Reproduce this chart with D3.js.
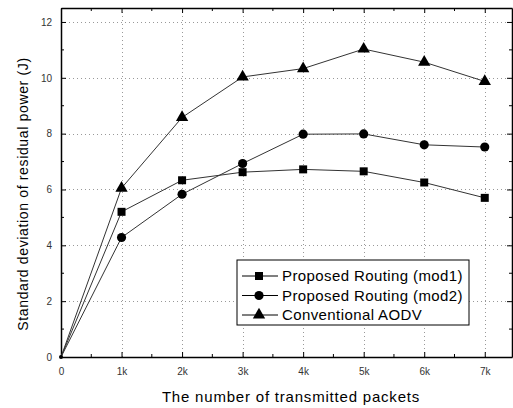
<!DOCTYPE html>
<html>
<head>
<meta charset="utf-8">
<script src="https://cdn.jsdelivr.net/npm/d3@7"></script>
<style>
  body { margin: 0; background: #fff; }
  text { font-family: "Liberation Sans", Arial, sans-serif; }
</style>
</head>
<body>
<div id="chart"></div>
<script>
// data
const packets = [0, 1000, 2000, 3000, 4000, 5000, 6000, 7000];
const mod1 = [0, 5.2, 6.33, 6.62, 6.72, 6.65, 6.25, 5.7];
const mod2 = [0, 4.28, 5.83, 6.93, 7.98, 7.99, 7.6, 7.52];
const aodv = [0, 6.05, 8.58, 10.03, 10.33, 11.03, 10.56, 9.87];
const seriesNames = ['Proposed Routing (mod1)', 'Proposed Routing (mod2)', 'Conventional AODV'];
const xTicks = [0, 1000, 2000, 3000, 4000, 5000, 6000, 7000];
const xTickLabels = ['0', '1k', '2k', '3k', '4k', '5k', '6k', '7k'];
const yTicks = [0, 2, 4, 6, 8, 10, 12];

const width = 513, height = 408;
const margin = { left: 61, right: 1, top: 8, bottom: 51 };

const svg = d3.select('#chart').append('svg')
    .attr('width', width)
    .attr('height', height);

const x = d3.scaleLinear()
    .domain([0, 7450])
    .range([margin.left, width - margin.right]);
const y = d3.scaleLinear()
    .domain([0, 12.5])
    .range([height - margin.bottom, margin.top]);

// grid
const grid = svg.append('g').attr('stroke', '#999').attr('stroke-dasharray', '1,3').attr('stroke-width', 1);
xTicks.slice(1).forEach(t => {
    grid.append('line')
        .attr('x1', Math.round(x(t)) + 0.5).attr('x2', Math.round(x(t)) + 0.5)
        .attr('y1', y.range()[0]).attr('y2', y.range()[1]);
});
yTicks.slice(1).forEach(t => {
    grid.append('line')
        .attr('y1', Math.round(y(t)) + 0.5).attr('y2', Math.round(y(t)) + 0.5)
        .attr('x1', x.range()[0]).attr('x2', x.range()[1]);
});

// axes (inward ticks)
const minorX = d3.range(500, 7450, 1000);
const minorY = d3.range(1, 12.5, 2);

const axisB = svg.append('g')
    .attr('transform', `translate(0,${y(0)})`)
    .call(d3.axisBottom(x).tickValues(xTicks).tickSizeInner(-5).tickSizeOuter(0)
        .tickFormat((d, i) => xTickLabels[i]));
axisB.append('g').selectAll('line').data(minorX).enter().append('line')
    .attr('x1', d => x(d)).attr('x2', d => x(d)).attr('y1', 0).attr('y2', -3)
    .attr('stroke', '#000');

const axisT = svg.append('g')
    .attr('transform', `translate(0,${y.range()[1]})`)
    .call(d3.axisTop(x).tickValues(xTicks).tickSizeInner(-5).tickSizeOuter(0).tickFormat(''));
axisT.append('g').selectAll('line').data(minorX).enter().append('line')
    .attr('x1', d => x(d)).attr('x2', d => x(d)).attr('y1', 0).attr('y2', 3)
    .attr('stroke', '#000');

const axisL = svg.append('g')
    .attr('transform', `translate(${x(0)},0)`)
    .call(d3.axisLeft(y).tickValues(yTicks).tickSizeInner(-5).tickSizeOuter(0));
axisL.append('g').selectAll('line').data(minorY).enter().append('line')
    .attr('y1', d => y(d)).attr('y2', d => y(d)).attr('x1', 0).attr('x2', 3)
    .attr('stroke', '#000');

const axisR = svg.append('g')
    .attr('transform', `translate(${x.range()[1]},0)`)
    .call(d3.axisRight(y).tickValues(yTicks).tickSizeInner(-5).tickSizeOuter(0).tickFormat(''));
axisR.append('g').selectAll('line').data(minorY).enter().append('line')
    .attr('y1', d => y(d)).attr('y2', d => y(d)).attr('x1', 0).attr('x2', -3)
    .attr('stroke', '#000');

svg.selectAll('.domain').attr('stroke', '#000').attr('stroke-width', 1.5);
svg.selectAll('.tick text').attr('font-size', 10).attr('fill', '#333')
    .attr('font-family', '"Liberation Sans", Arial, sans-serif');
axisB.selectAll('.tick text').attr('dy', '1.5em');
axisL.selectAll('.tick text').attr('dx', '-6');

// lines and markers
const series = [mod1, mod2, aodv];
const markers = [d3.symbolSquare, d3.symbolCircle, d3.symbolTriangle];
const markerSize = [64, 66, 66];
const line = d3.line().x((d, i) => x(packets[i])).y(d => y(d));

series.forEach((s, k) => {
    svg.append('path')
        .datum(s)
        .attr('d', line)
        .attr('fill', 'none')
        .attr('stroke', '#333')
        .attr('stroke-width', 1);
    svg.append('g').selectAll('path')
        .data(s.slice(1))
        .enter()
        .append('path')
        .attr('transform', (d, i) => `translate(${x(packets[i + 1])},${y(d)})`)
        .attr('d', d3.symbol().type(markers[k]).size(markerSize[k]))
        .attr('fill', '#000');
});
// start point
svg.append('circle').attr('cx', x(0)).attr('cy', y(0)).attr('r', 2).attr('fill', '#000');

// legend
const legend = svg.append('g').attr('transform', 'translate(237,260)');
legend.append('rect')
    .attr('width', 232).attr('height', 65)
    .attr('fill', '#fff').attr('stroke', '#000').attr('stroke-width', 1);
seriesNames.forEach((name, k) => {
    const g = legend.append('g').attr('transform', `translate(0,${16 + k * 19.5})`);
    g.append('line').attr('x1', 5).attr('x2', 41).attr('stroke', '#000');
    g.append('path')
        .attr('transform', 'translate(22,0)')
        .attr('d', d3.symbol().type(markers[k]).size(markerSize[k]))
        .attr('fill', '#000');
    g.append('text')
        .attr('x', 45).attr('dy', '0.36em')
        .attr('font-size', 15).attr('letter-spacing', 0.4)
        .text(name);
});

// axis titles
svg.append('text')
    .attr('x', 291).attr('y', 402)
    .attr('text-anchor', 'middle')
    .attr('font-size', 15).attr('letter-spacing', 0.8)
    .text('The number of transmitted packets');
svg.append('text')
    .attr('transform', `translate(28,${194}) rotate(-90)`)
    .attr('text-anchor', 'middle')
    .attr('font-size', 14).attr('letter-spacing', 0.65)
    .text('Standard deviation of residual power (J)');
</script>
</body>
</html>
